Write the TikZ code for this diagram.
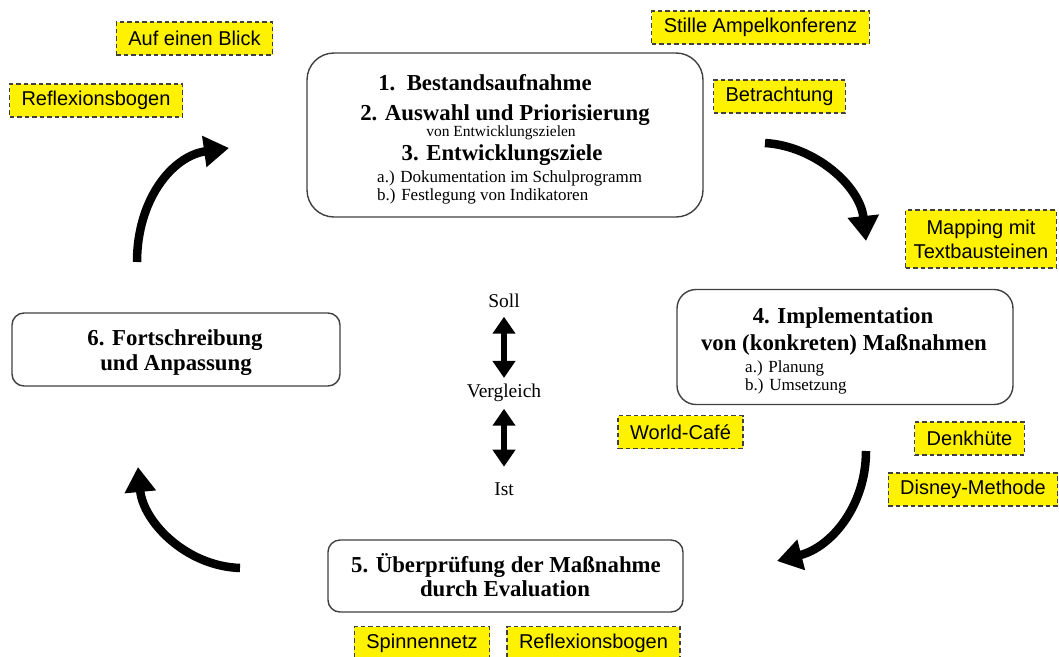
\documentclass[tikz,border=0pt]{standalone}
\usepackage{fontspec}
\setmainfont{Liberation Serif}
\setsansfont{Liberation Sans}
\usetikzlibrary{arrows.meta}

\tikzset{
  stepbox/.style={draw=black!75,line width=1.4pt,fill=white},
  headline/.style={font=\bfseries\fontsize{22.8}{26}\selectfont,anchor=base,inner sep=0pt},
  subline/.style={font=\fontsize{17}{20}\selectfont,anchor=base west,inner sep=0pt},
  methodtag/.style={draw=black!75,fill=yellow,line width=1.3pt,dash pattern=on 4.5pt off 3pt,
    font=\sffamily\fontsize{20}{24}\selectfont,inner xsep=12pt,minimum height=33pt,align=center},
  looparrow/.style={line width=8.5pt,-{Triangle[length=25pt,width=30pt]}},
  cmparrow/.style={line width=5.5pt,{Triangle[length=17pt,width=22pt]}-{Triangle[length=17pt,width=22pt]}}
}

\begin{document}
\begin{tikzpicture}[x=1pt,y=-1pt]
  \useasboundingbox (0,0) rectangle (1059,656);

  \node (bestand) at (505,135) [stepbox,minimum width=396pt,minimum height=164pt,rounded corners=27pt] {};
  \node (b1) at (485,90) [headline] {1.\ \ Bestandsaufnahme};
  \node (b2) at (505,120) [headline] {2. Auswahl und Priorisierung};
  \node (b3) at (501,136) [headline,font=\fontsize{15.5}{18}\selectfont] {von Entwicklungszielen};
  \node (b4) at (502,160) [headline] {3. Entwicklungsziele};
  \node (b5) at (377,182) [subline] {a.) Dokumentation im Schulprogramm};
  \node (b6) at (377,200) [subline] {b.) Festlegung von Indikatoren};

  \node (impl) at (845,347) [stepbox,minimum width=336pt,minimum height=115pt,rounded corners=19pt] {};
  \node (i1) at (843,323) [headline] {4. Implementation};
  \node (i2) at (844,350) [headline] {von (konkreten) Maßnahmen};
  \node (i3) at (745,372) [subline] {a.) Planung};
  \node (i4) at (745,390) [subline] {b.) Umsetzung};

  \node (eval) at (505.5,576) [stepbox,minimum width=355pt,minimum height=72pt,rounded corners=12pt] {};
  \node (e1) at (506,572) [headline] {5. Überprüfung der Maßnahme};
  \node (e2) at (505,596) [headline] {durch Evaluation};

  \node (fort) at (176,349.5) [stepbox,minimum width=328pt,minimum height=73pt,rounded corners=12pt] {};
  \node (f1) at (175,345) [headline] {6. Fortschreibung};
  \node (f2) at (176,370) [headline] {und Anpassung};

  \node (soll) at (504,307) [anchor=base,font=\fontsize{19.5}{22}\selectfont] {Soll};
  \node (vergl) at (504,397) [anchor=base,font=\fontsize{19.5}{22}\selectfont] {Vergleich};
  \node (ist) at (504,495) [anchor=base,font=\fontsize{19.5}{22}\selectfont] {Ist};
  \draw [cmparrow,shorten <=6pt,shorten >=2pt] (soll.south) -- (vergl.north);
  \draw [cmparrow,shorten <=4pt,shorten >=12pt] (vergl.south) -- (ist.north);

  \node (aufblick) at (194.5,38.5) [methodtag] {Auf einen Blick};
  \node (reflexA) at (96,100.5) [methodtag] {Reflexionsbogen};
  \node (ampel) at (760.5,27.5) [methodtag] {Stille Ampelkonferenz};
  \node (betracht) at (779.5,96.5) [methodtag] {Betrachtung};
  \node (mapping) at (981,239) [methodtag,minimum height=58pt,inner xsep=8pt] {Mapping mit\\Textbausteinen};
  \node (worldcafe) at (680.5,432) [methodtag] {World-Café};
  \node (denkhuete) at (969.5,438.5) [methodtag] {Denkhüte};
  \node (disney) at (973,489.5) [methodtag] {Disney-Methode};
  \node (spinnen) at (422,643) [methodtag] {Spinnennetz};
  \node (reflexB) at (593.5,643) [methodtag] {Reflexionsbogen};

  \coordinate (fortA) at (137,262);
  \coordinate (bestandA) at (229,148);
  \coordinate (bestandB) at (765,143);
  \coordinate (implA) at (866,241);
  \coordinate (implB) at (866,451);
  \coordinate (evalA) at (777,561);
  \coordinate (evalB) at (240,568);
  \coordinate (fortB) at (138,467);
  \draw [looparrow] (fortA) .. controls (137,200) and (172,156) .. (bestandA);
  \draw [looparrow] (bestandB) .. controls (815,146) and (860,186) .. (implA);
  \draw [looparrow] (implB) .. controls (866,505) and (832,547) .. (evalA);
  \draw [looparrow] (evalB) .. controls (185,566) and (143,521) .. (fortB);
\end{tikzpicture}
\end{document}
